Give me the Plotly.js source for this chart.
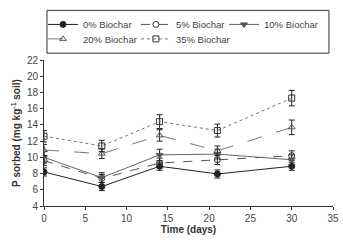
<!DOCTYPE html>
<html><head><meta charset="utf-8">
<script src="https://cdn.plot.ly/plotly-3.0.1.min.js"></script>
<style>html,body{margin:0;padding:0;background:#fff}#c{width:343px;height:242px}</style>
</head><body><div id="c"></div>
<script>
const days = [0, 7, 14, 21, 30];
const seriesNames = ["0% Biochar", "5% Biochar", "10% Biochar", "20% Biochar", "35% Biochar"];
const bio0 = [8.2, 6.4, 8.9, 7.95, 8.9];
const bio5 = [9.6, 7.4, 9.3, 9.7, 10.2];
const bio10 = [10.0, 7.5, 10.3, 10.4, 9.7];
const bio20 = [10.9, 10.45, 12.7, 10.8, 13.7];
const bio35 = [12.6, 11.4, 14.4, 13.3, 17.3];
const err0 = [0.5, 0.5, 0.5, 0.5, 0.5];
const err5 = [0.6, 0.5, 0.6, 0.6, 0.6];
const err10 = [0.7, 0.6, 0.7, 0.6, 0.6];
const err20 = [0.7, 0.6, 0.7, 0.6, 0.9];
const err35 = [0.7, 0.7, 0.85, 0.8, 0.95];
const xTicks = [0, 5, 10, 15, 20, 25, 30, 35];
const yTicks = [4, 6, 8, 10, 12, 14, 16, 18, 20, 22];

const FONT = '"Liberation Sans", Arial, sans-serif';
const styles = [
  {color:'#222', dash:'solid', symbol:'circle', mcolor:'#222'},
  {color:'#555', dash:'dash', symbol:'circle-open', mcolor:'#333'},
  {color:'#666', dash:'solid', symbol:'triangle-down', mcolor:'#555'},
  {color:'#777', dash:'longdash', symbol:'triangle-up-open', mcolor:'#555'},
  {color:'#777', dash:'dot', symbol:'square-open', mcolor:'#333'}
];
const legendIds = ['legend', 'legend2', 'legend3', 'legend4', 'legend5'];
const legendPos = [[-0.0035, 1.343], [0.318, 1.343], [0.623, 1.343], [-0.0035, 1.244], [0.318, 1.244]];
const vals = [bio0, bio5, bio10, bio20, bio35];
const errs = [err0, err5, err10, err20, err35];
const traces = vals.map((v, i) => ({
  x: days, y: v, name: seriesNames[i], type: 'scatter', mode: 'lines+markers',
  legend: legendIds[i],
  line: {color: styles[i].color, dash: styles[i].dash, width: 1},
  marker: {symbol: styles[i].symbol, size: 6, color: styles[i].mcolor,
           line: {color: styles[i].mcolor, width: 1}},
  error_y: {type: 'data', array: errs[i], visible: true, color: '#222', thickness: 1, width: 3}
}));

const layout = {
  width: 343, height: 242,
  margin: {l: 44, r: 10, t: 56, b: 36},
  paper_bgcolor: '#fff', plot_bgcolor: '#fff',
  font: {family: FONT, size: 10, color: '#444'},
  showlegend: true,
  shapes: [{type: 'rect', xref: 'paper', yref: 'paper', x0: 0.0104, x1: 0.986, y0: 1.0467, y1: 1.34,
            line: {color: '#333', width: 1}, fillcolor: 'rgba(0,0,0,0)'}],
  xaxis: {range: [0, 35], tickvals: xTicks, showgrid: false, zeroline: false, showline: true,
          linecolor: '#333', linewidth: 1, ticks: 'outside', ticklen: 3, tickcolor: '#333',
          title: {text: '<b>Time (days)</b>', font: {size: 10, color: '#333'}, standoff: 2}},
  yaxis: {range: [4, 22], tickvals: yTicks, showgrid: false, zeroline: false, showline: true,
          linecolor: '#333', linewidth: 1, ticks: 'outside', ticklen: 3, tickcolor: '#333',
          title: {text: '<b>P sorbed (mg kg<sup>-1</sup> soil)</b>', font: {size: 10, color: '#333'}, standoff: 4}}
};
legendIds.forEach((id, i) => {
  layout[id] = {orientation: 'v', xanchor: 'left', yanchor: 'top', borderwidth: 0,
    bgcolor: 'rgba(0,0,0,0)', itemwidth: 30, x: legendPos[i][0], y: legendPos[i][1],
    font: {size: 9.5, color: '#444'}};
});

Plotly.newPlot('c', traces, layout, {displayModeBar: false, staticPlot: true});
</script></body></html>
